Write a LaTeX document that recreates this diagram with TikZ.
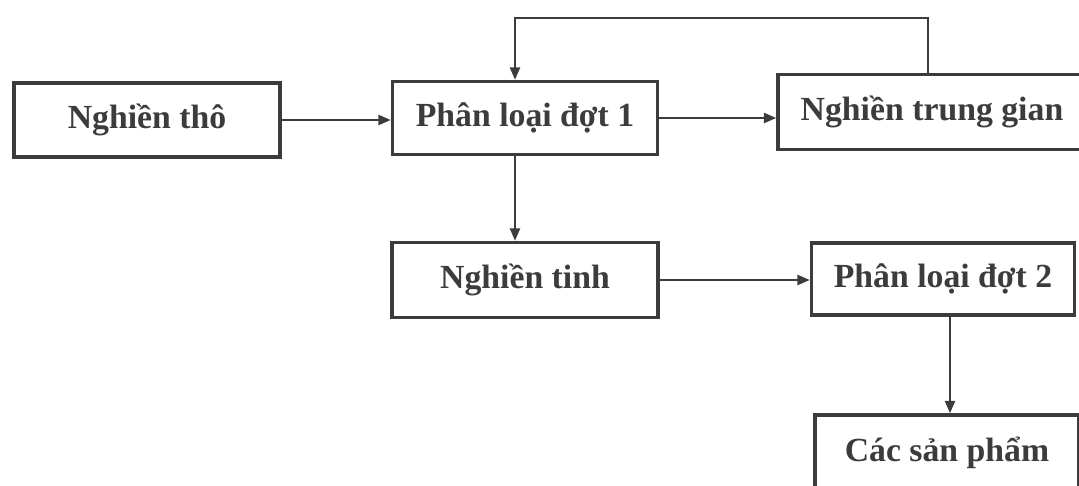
\documentclass[tikz,border=0pt]{standalone}
\usepackage{fontspec}
\setmainfont{Liberation Serif}
\usetikzlibrary{arrows.meta}
\definecolor{ink}{HTML}{3C3C3C}
\tikzset{
  px/.style={x=0.025cm,y=-0.025cm},
  stepbox/.style={draw=ink, line width=2.2pt, fill=white, inner sep=0pt,
    text=ink, font=\fontsize{24}{28}\selectfont\bfseries},
  flow/.style={draw=ink, line width=2pt, -{Triangle[length=9pt,width=7pt]}},
  plain/.style={draw=ink, line width=2pt}
}
\begin{document}
\begin{tikzpicture}[px]
  \useasboundingbox (0,0) rectangle (1079,486);
  \clip (0,0) rectangle (1079,486);
  \fill[white] (0,0) rectangle (1079,486);

  % process steps
  \node[stepbox, minimum width=266*0.025cm, minimum height=74*0.025cm] (tho) at (147,120) {Nghiền thô};
  \node[stepbox, minimum width=265*0.025cm, minimum height=73*0.025cm] (pl1) at (525,118) {Phân loại đợt 1};
  \node[stepbox, minimum width=308*0.025cm, minimum height=75*0.025cm] (tg) at (932,112) {Nghiền trung gian};
  \node[stepbox, minimum width=266*0.025cm, minimum height=75*0.025cm] (tinh) at (525,280) {Nghiền tinh};
  \node[stepbox, minimum width=263*0.025cm, minimum height=72*0.025cm] (pl2) at (943,279) {Phân loại đợt 2};
  \node[stepbox, minimum width=264*0.025cm, minimum height=76*0.025cm] (sp) at (947,453) {Các sản phẩm};

  % guide positions for the connectors
  \coordinate (xa) at (515,0);
  \coordinate (xb) at (928,0);
  \coordinate (xc) at (950,0);
  \coordinate (top) at (0,18);

  % connectors
  \draw[flow] (tho.east) -- (tho.east -| pl1.west);
  \draw[flow] (pl1.east) -- (pl1.east -| tg.west);
  \draw[flow] (pl1.south -| xa) -- (tinh.north -| xa);
  \draw[flow] (tinh.east) -- (tinh.east -| pl2.west);
  \draw[flow] (pl2.south -| xc) -- (sp.north -| xc);
  \draw[flow] (tg.north -| xb) -- (xb |- top) -- (xa |- top) -- (pl1.north -| xa);
\end{tikzpicture}
\end{document}
